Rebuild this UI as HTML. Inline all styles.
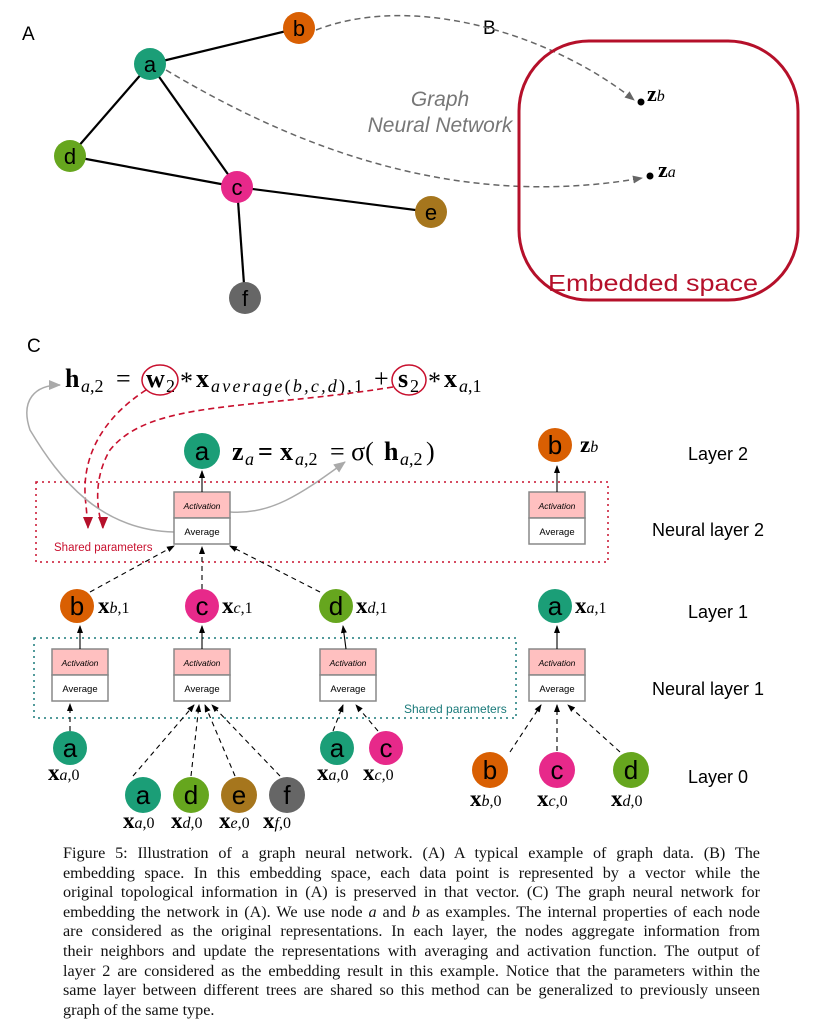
<!DOCTYPE html>
<html><head><meta charset="utf-8"><style>
body{margin:0;background:#fff;width:820px;height:1032px;overflow:hidden}
.cap{position:absolute;left:63px;top:844px;width:697px;font-family:"Liberation Serif",serif;font-size:16.2px;line-height:19.6px;color:#111}
.cap div{text-align:justify;text-align-last:justify;white-space:nowrap}
.cap div.l{text-align-last:left}
</style></head><body>
<svg width="820" height="845" style="position:absolute;left:0;top:0" font-family="Liberation Sans,sans-serif">
<defs>
<marker id="ag" markerWidth="10" markerHeight="8" refX="9" refY="4" orient="auto" markerUnits="userSpaceOnUse"><path d="M0,0L10,4L0,8z" fill="#666"/></marker>
<marker id="ak" markerWidth="8" markerHeight="6" refX="7" refY="3" orient="auto" markerUnits="userSpaceOnUse"><path d="M0,0L8,3L0,6z" fill="#000"/></marker>
<marker id="ar" markerWidth="10" markerHeight="12" refX="5" refY="11" orient="0" markerUnits="userSpaceOnUse"><path d="M0,0L10,0L5,12z" fill="#b5102a"/></marker>
<marker id="agr" markerWidth="12" markerHeight="10" refX="11" refY="5" orient="auto" markerUnits="userSpaceOnUse"><path d="M0,0L12,5L0,10z" fill="#aaa"/></marker>
</defs>
<text x="22" y="40" font-size="19">A</text><text x="483" y="34" font-size="19">B</text><text x="27" y="352" font-size="19">C</text>
<g stroke="#000" stroke-width="2.2">
<line x1="150" y1="64" x2="299" y2="28"/><line x1="150" y1="64" x2="70" y2="156"/><line x1="150" y1="64" x2="237" y2="187"/>
<line x1="70" y1="156" x2="237" y2="187"/><line x1="237" y1="187" x2="431" y2="212"/><line x1="237" y1="187" x2="245" y2="298"/></g>
<g stroke="#666" stroke-width="1.5" stroke-dasharray="6,4" fill="none">
<path d="M316,30 C420,-10 560,40 634,100" marker-end="url(#ag)"/>
<path d="M166,70 C300,150 460,210 642,178" marker-end="url(#ag)"/></g>
<g font-size="22" text-anchor="middle">
<circle cx="150" cy="64" r="16" fill="#1b9e77"/><text x="150" y="72">a</text>
<circle cx="299" cy="28" r="16" fill="#d95f02"/><text x="299" y="36">b</text>
<circle cx="70" cy="156" r="16" fill="#66a61e"/><text x="70" y="164">d</text>
<circle cx="237" cy="187" r="16" fill="#e7298a"/><text x="237" y="195">c</text>
<circle cx="431" cy="212" r="16" fill="#a6761d"/><text x="431" y="220">e</text>
<circle cx="245" cy="298" r="16" fill="#666"/><text x="245" y="306">f</text></g>
<text x="440" y="106" font-size="21" font-style="italic" fill="#777" text-anchor="middle">Graph</text>
<text x="440" y="132" font-size="21" font-style="italic" fill="#777" text-anchor="middle">Neural Network</text>
<rect x="519" y="41" width="279" height="259" rx="70" fill="none" stroke="#b5102a" stroke-width="3"/>
<text x="548" y="291" font-size="23" fill="#b5102a" textLength="210" lengthAdjust="spacingAndGlyphs">Embedded space</text>
<circle cx="641" cy="102" r="3.5"/><circle cx="650" cy="176" r="3.5"/>
<g font-family="Liberation Serif,serif">
<text x="647" y="101" font-size="22" font-weight="bold">z<tspan font-size="16" font-style="italic" font-weight="normal">b</tspan></text>
<text x="658" y="177" font-size="22" font-weight="bold">z<tspan font-size="16" font-style="italic" font-weight="normal">a</tspan></text>
<g font-size="26">
<text x="65" y="387" font-weight="bold">h</text><text x="81" y="392" font-size="18"><tspan font-style="italic">a</tspan>,2</text>
<text x="116" y="387">=</text>
<text x="146" y="387" font-weight="bold">w</text><text x="166" y="392" font-size="18">2</text>
<text x="180" y="390">*</text>
<text x="196" y="387" font-weight="bold">x</text><text x="211" y="392" font-size="18" textLength="152"><tspan font-style="italic">average</tspan>(<tspan font-style="italic">b,c,d</tspan>),1</text>
<text x="374" y="387">+</text>
<text x="398" y="387" font-weight="bold">s</text><text x="410" y="392" font-size="18">2</text>
<text x="428" y="390">*</text>
<text x="444" y="387" font-weight="bold">x</text><text x="459" y="392" font-size="18"><tspan font-style="italic">a</tspan>,1</text>
<text x="232" y="460" font-weight="bold">z</text><text x="245" y="465" font-size="18" font-style="italic">a</text>
<text x="258" y="460" font-weight="bold">=</text>
<text x="280" y="460" font-weight="bold">x</text><text x="295" y="465" font-size="18"><tspan font-style="italic">a</tspan>,2</text>
<text x="330" y="460">= σ(</text><text x="384" y="460" font-weight="bold">h</text><text x="400" y="465" font-size="18"><tspan font-style="italic">a</tspan>,2</text><text x="426" y="460">)</text>
</g>
<text x="580" y="452" font-size="23" font-weight="bold">z<tspan font-size="16" font-style="italic" font-weight="normal">b</tspan></text></g>
<ellipse cx="160" cy="380" rx="18" ry="15" fill="none" stroke="#c8102e" stroke-width="1.5"/>
<ellipse cx="409" cy="380" rx="17" ry="15" fill="none" stroke="#c8102e" stroke-width="1.5"/>
<g stroke="#c8102e" stroke-width="1.6" stroke-dasharray="6,4" fill="none">
<path d="M146,390 C100,420 80,460 86,505 L88,528" marker-end="url(#ar)"/>
<path d="M393,387 C250,410 150,400 110,450 C95,475 95,505 103,528" marker-end="url(#ar)"/></g>
<g stroke="#aaa" stroke-width="1.5" fill="none">
<path d="M174,532 C100,530 60,480 30,430 C20,400 35,385 60,385" marker-end="url(#agr)"/>
<path d="M230,512 C270,515 300,495 345,462" marker-end="url(#agr)"/></g>
<text x="54" y="551" font-size="11.5" fill="#c8102e">Shared parameters</text>
<rect x="36" y="482" width="572" height="80" fill="none" stroke="#c8102e" stroke-width="1.5" stroke-dasharray="2,4"/>
<rect x="34" y="638" width="482" height="80" fill="none" stroke="#1a7a7a" stroke-width="1.5" stroke-dasharray="2,4"/>
<text x="404" y="713" font-size="12" fill="#1a7a7a">Shared parameters</text>
<g font-size="18"><text x="688" y="460">Layer 2</text><text x="652" y="536">Neural layer 2</text><text x="688" y="618">Layer 1</text><text x="652" y="695">Neural layer 1</text><text x="688" y="783">Layer 0</text></g>
<g font-size="9.5" text-anchor="middle">
<g transform="translate(174,492)"><rect width="56" height="26" fill="#ffc0c0" stroke="#888" stroke-width="1.5"/><rect y="26" width="56" height="26" fill="#fff" stroke="#888" stroke-width="1.5"/><text x="28" y="17" font-style="italic" font-size="8.5">Activation</text><text x="28" y="43">Average</text></g>
<g transform="translate(529,492)"><rect width="56" height="26" fill="#ffc0c0" stroke="#888" stroke-width="1.5"/><rect y="26" width="56" height="26" fill="#fff" stroke="#888" stroke-width="1.5"/><text x="28" y="17" font-style="italic" font-size="8.5">Activation</text><text x="28" y="43">Average</text></g>
<g transform="translate(52,649)"><rect width="56" height="26" fill="#ffc0c0" stroke="#888" stroke-width="1.5"/><rect y="26" width="56" height="26" fill="#fff" stroke="#888" stroke-width="1.5"/><text x="28" y="17" font-style="italic" font-size="8.5">Activation</text><text x="28" y="43">Average</text></g>
<g transform="translate(174,649)"><rect width="56" height="26" fill="#ffc0c0" stroke="#888" stroke-width="1.5"/><rect y="26" width="56" height="26" fill="#fff" stroke="#888" stroke-width="1.5"/><text x="28" y="17" font-style="italic" font-size="8.5">Activation</text><text x="28" y="43">Average</text></g>
<g transform="translate(320,649)"><rect width="56" height="26" fill="#ffc0c0" stroke="#888" stroke-width="1.5"/><rect y="26" width="56" height="26" fill="#fff" stroke="#888" stroke-width="1.5"/><text x="28" y="17" font-style="italic" font-size="8.5">Activation</text><text x="28" y="43">Average</text></g>
<g transform="translate(529,649)"><rect width="56" height="26" fill="#ffc0c0" stroke="#888" stroke-width="1.5"/><rect y="26" width="56" height="26" fill="#fff" stroke="#888" stroke-width="1.5"/><text x="28" y="17" font-style="italic" font-size="8.5">Activation</text><text x="28" y="43">Average</text></g></g>
<g stroke="#000" stroke-width="1.1" fill="none">
<line x1="202" y1="492" x2="202" y2="471" marker-end="url(#ak)"/><line x1="557" y1="492" x2="557" y2="466" marker-end="url(#ak)"/>
<line x1="80" y1="649" x2="80" y2="626" marker-end="url(#ak)"/><line x1="202" y1="649" x2="202" y2="626" marker-end="url(#ak)"/>
<line x1="346" y1="649" x2="343" y2="626" marker-end="url(#ak)"/><line x1="557" y1="649" x2="557" y2="626" marker-end="url(#ak)"/>
<g stroke-dasharray="5,4">
<line x1="90" y1="592" x2="174" y2="546" marker-end="url(#ak)"/><line x1="202" y1="589" x2="202" y2="547" marker-end="url(#ak)"/>
<line x1="320" y1="592" x2="230" y2="546" marker-end="url(#ak)"/>
<line x1="70" y1="731" x2="70" y2="704" marker-end="url(#ak)"/>
<line x1="133" y1="776" x2="194" y2="705" marker-end="url(#ak)"/>
<line x1="191" y1="776" x2="199" y2="705" marker-end="url(#ak)"/>
<line x1="235" y1="776" x2="205" y2="705" marker-end="url(#ak)"/>
<line x1="280" y1="776" x2="212" y2="705" marker-end="url(#ak)"/>
<line x1="333" y1="731" x2="343" y2="705" marker-end="url(#ak)"/>
<line x1="378" y1="731" x2="356" y2="705" marker-end="url(#ak)"/>
<line x1="510" y1="752" x2="541" y2="705" marker-end="url(#ak)"/>
<line x1="557" y1="751" x2="557" y2="705" marker-end="url(#ak)"/>
<line x1="620" y1="752" x2="568" y2="705" marker-end="url(#ak)"/></g></g>
<g font-size="26" text-anchor="middle">
<circle cx="202" cy="451" r="18" fill="#1b9e77"/><text x="202" y="460">a</text>
<circle cx="555" cy="445" r="17" fill="#d95f02"/><text x="555" y="454">b</text>
<circle cx="77" cy="606" r="17" fill="#d95f02"/><text x="77" y="615">b</text>
<circle cx="202" cy="606" r="17" fill="#e7298a"/><text x="202" y="615">c</text>
<circle cx="336" cy="606" r="17" fill="#66a61e"/><text x="336" y="615">d</text>
<circle cx="555" cy="606" r="17" fill="#1b9e77"/><text x="555" y="615">a</text>
<circle cx="70" cy="748" r="17" fill="#1b9e77"/><text x="70" y="757">a</text>
<circle cx="143" cy="795" r="18" fill="#1b9e77"/><text x="143" y="804">a</text>
<circle cx="191" cy="795" r="18" fill="#66a61e"/><text x="191" y="804">d</text>
<circle cx="239" cy="795" r="18" fill="#a6761d"/><text x="239" y="804">e</text>
<circle cx="287" cy="795" r="18" fill="#666"/><text x="287" y="804">f</text>
<circle cx="337" cy="748" r="17" fill="#1b9e77"/><text x="337" y="757">a</text>
<circle cx="386" cy="748" r="17" fill="#e7298a"/><text x="386" y="757">c</text>
<circle cx="490" cy="770" r="18" fill="#d95f02"/><text x="490" y="779">b</text>
<circle cx="557" cy="770" r="18" fill="#e7298a"/><text x="557" y="779">c</text>
<circle cx="631" cy="770" r="18" fill="#66a61e"/><text x="631" y="779">d</text></g>
<g font-family="Liberation Serif,serif" font-size="23">
<text x="98" y="613"><tspan font-weight="bold">x</tspan><tspan font-size="16"><tspan font-style="italic">b</tspan>,1</tspan></text>
<text x="222" y="613"><tspan font-weight="bold">x</tspan><tspan font-size="16"><tspan font-style="italic">c</tspan>,1</tspan></text>
<text x="356" y="613"><tspan font-weight="bold">x</tspan><tspan font-size="16"><tspan font-style="italic">d</tspan>,1</tspan></text>
<text x="575" y="613"><tspan font-weight="bold">x</tspan><tspan font-size="16"><tspan font-style="italic">a</tspan>,1</tspan></text>
<text x="48" y="780"><tspan font-weight="bold">x</tspan><tspan font-size="16"><tspan font-style="italic">a</tspan>,0</tspan></text>
<text x="123" y="828"><tspan font-weight="bold">x</tspan><tspan font-size="16"><tspan font-style="italic">a</tspan>,0</tspan></text>
<text x="171" y="828"><tspan font-weight="bold">x</tspan><tspan font-size="16"><tspan font-style="italic">d</tspan>,0</tspan></text>
<text x="219" y="828"><tspan font-weight="bold">x</tspan><tspan font-size="16"><tspan font-style="italic">e</tspan>,0</tspan></text>
<text x="263" y="828"><tspan font-weight="bold">x</tspan><tspan font-size="16"><tspan font-style="italic">f</tspan>,0</tspan></text>
<text x="317" y="780"><tspan font-weight="bold">x</tspan><tspan font-size="16"><tspan font-style="italic">a</tspan>,0</tspan></text>
<text x="363" y="780"><tspan font-weight="bold">x</tspan><tspan font-size="16"><tspan font-style="italic">c</tspan>,0</tspan></text>
<text x="470" y="806"><tspan font-weight="bold">x</tspan><tspan font-size="16"><tspan font-style="italic">b</tspan>,0</tspan></text>
<text x="537" y="806"><tspan font-weight="bold">x</tspan><tspan font-size="16"><tspan font-style="italic">c</tspan>,0</tspan></text>
<text x="611" y="806"><tspan font-weight="bold">x</tspan><tspan font-size="16"><tspan font-style="italic">d</tspan>,0</tspan></text></g>
</svg>
<div class="cap">
<div>Figure 5: Illustration of a graph neural network. (A) A typical example of graph data. (B) The</div>
<div>embedding space. In this embedding space, each data point is represented by a vector while the</div>
<div>original topological information in (A) is preserved in that vector. (C) The graph neural network for</div>
<div>embedding the network in (A). We use node <i>a</i> and <i>b</i> as examples. The internal properties of each node</div>
<div>are considered as the original representations. In each layer, the nodes aggregate information from</div>
<div>their neighbors and update the representations with averaging and activation function. The output of</div>
<div>layer 2 are considered as the embedding result in this example. Notice that the parameters within the</div>
<div>same layer between different trees are shared so this method can be generalized to previously unseen</div>
<div class="l">graph of the same type.</div>
</div>
</body></html>
